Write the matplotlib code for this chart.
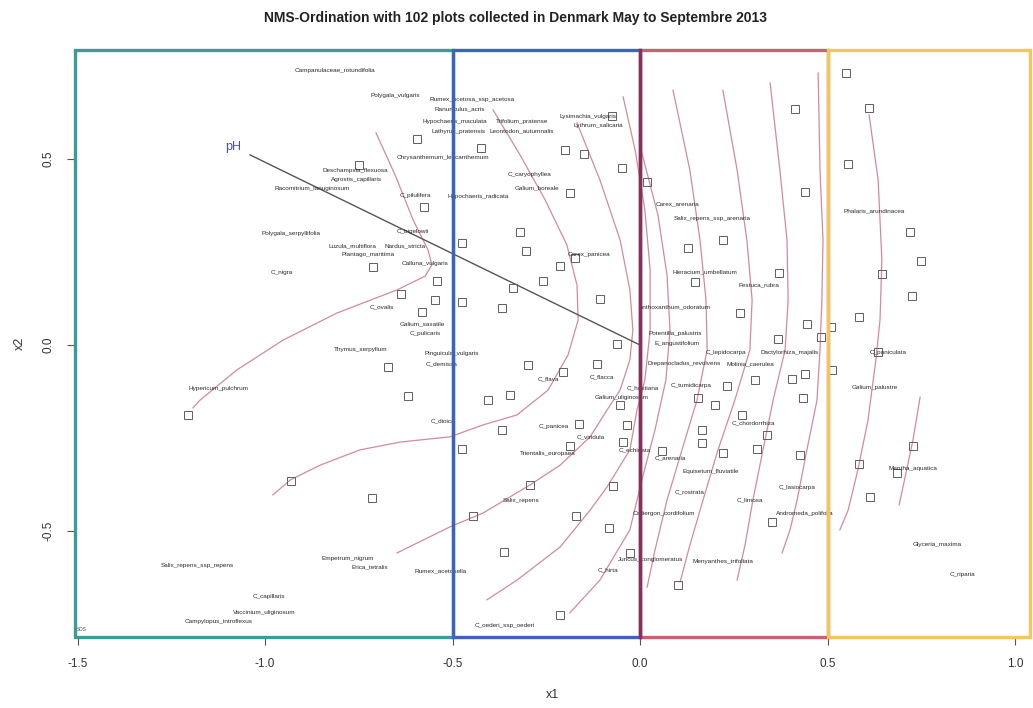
import matplotlib
matplotlib.use("Agg")
import matplotlib.pyplot as plt
from matplotlib.patches import Rectangle

plt.rcParams['font.family'] = ['Liberation Sans', 'DejaVu Sans']

# ---- NMS site scores (vegetation plots) ----
site_x = [-0.595, -0.749, -0.576, -0.712, -0.541, -0.637, -0.547, -0.581, -0.672, -0.619,
          -1.205, -0.931, -0.715,
          -0.424, -0.200, -0.149, -0.048, -0.187, -0.320, -0.075, -0.475, -0.304, -0.213,
          -0.173, -0.259, -0.339, -0.475, -0.368, -0.107, -0.061, -0.299, -0.115, -0.205,
          -0.405, -0.347, -0.053, -0.368, -0.475, -0.163, -0.187, -0.035, -0.045, -0.293,
          -0.072, -0.445, -0.171, -0.083, -0.363, -0.027, -0.213,
          0.019, 0.413, 0.440, 0.059, 0.101, 0.128, 0.221, 0.147, 0.371, 0.267, 0.445,
          0.368, 0.483, 0.232, 0.307, 0.405, 0.440, 0.435, 0.155, 0.200, 0.272, 0.165,
          0.165, 0.221, 0.312, 0.339, 0.427, 0.352, 0.512, 0.509,
          0.549, 0.611, 0.555, 0.720, 0.749, 0.645, 0.725, 0.584, 0.635, 0.728, 0.584,
          0.685, 0.613]
site_y = [0.554, 0.484, 0.371, 0.210, 0.172, 0.137, 0.121, 0.089, -0.059, -0.137,
          -0.188, -0.366, -0.411,
          0.530, 0.524, 0.513, 0.476, 0.409, 0.304, 0.616, 0.274, 0.253, 0.212,
          0.234, 0.172, 0.153, 0.116, 0.099, 0.124, 0.003, -0.054, -0.051, -0.073,
          -0.148, -0.134, -0.161, -0.228, -0.280, -0.212, -0.272, -0.215, -0.261, -0.376,
          -0.379, -0.460, -0.460, -0.492, -0.556, -0.559, -0.726,
          0.438, 0.634, 0.411, -0.285, -0.645, 0.261, 0.282, 0.169, 0.194, 0.086, 0.056,
          0.016, 0.022, -0.110, -0.094, -0.091, -0.078, -0.142, -0.142, -0.161, -0.188, -0.228,
          -0.263, -0.290, -0.280, -0.242, -0.296, -0.476, -0.067, 0.048,
          0.731, 0.637, 0.487, 0.304, 0.226, 0.191, 0.132, 0.075, -0.019, -0.272, -0.320,
          -0.344, -0.409]

# ---- species scores ----
species = ["Campanulaceae_rotundifolia", "Polygala_vulgaris", "Rumex_acetosa_ssp_acetosa",
           "Ranunculus_acris", "Hypochaeris_maculata", "Trifolium_pratense",
           "Lathyrus_pratensis", "Leontodon_autumnalis", "Chrysanthemum_leucanthemum",
           "C_caryophyllea", "Galium_boreale", "Hypochaeris_radicata", "C_pilulifera",
           "Deschampsia_flexuosa", "Agrostis_capillaris", "Racomitrium_lanuginosum",
           "C_bigelowii", "Polygala_serpyllifolia", "Luzula_multiflora",
           "Nardus_stricta", "Plantago_maritima", "C_nigra", "Calluna_vulgaris",
           "C_ovalis", "Galium_saxatile", "C_pulicaris", "Thymus_serpyllum",
           "Pinguicula_vulgaris", "C_demissa", "Hypericum_pulchrum", "C_dioica",
           "Salix_repens_ssp_repens", "Empetrum_nigrum", "Erica_tetralix",
           "Rumex_acetosella", "C_capillaris", "Vaccinium_uliginosum",
           "Campylopus_introflexus",
           "Carex_panicea", "C_flava", "C_flacca", "C_hostiana", "Galium_uliginosum",
           "C_panicea", "C_viridula", "Trientalis_europaea", "C_echinata", "C_arenaria",
           "Salix_repens", "C_hirta", "C_oederi_ssp_oederi", "Juncus_conglomeratus",
           "Lysimachia_vulgaris", "Lythrum_salicaria",
           "Anthoxanthum_odoratum", "Potentilla_palustris", "E_angustifolium",
           "C_lepidocarpa", "Dactylorhiza_majalis",
           "Drepanocladus_revolvens", "Molinia_caerulea",
           "C_tumidicarpa", "Salix_repens_ssp_arenaria", "Carex_arenaria",
           "Hieracium_umbellatum", "Festuca_rubra", "C_chordorrhiza",
           "Equisetum_fluviatile", "C_rostrata", "C_limosa", "C_lasiocarpa",
           "Andromeda_polifolia", "Calliergon_cordifolium", "Menyanthes_trifoliata",
           "Phalaris_arundinacea", "C_paniculata", "Galium_palustre", "Mentha_aquatica",
           "Glyceria_maxima", "C_riparia"]
species_x = [-0.813, -0.653, -0.448, -0.480, -0.493, -0.315, -0.485, -0.315, -0.525,
             -0.296, -0.275, -0.432, -0.600, -0.760, -0.755, -0.875, -0.605, -0.931,
             -0.768, -0.627, -0.725, -0.955, -0.573, -0.688, -0.581, -0.573, -0.744,
             -0.501, -0.528, -1.123, -0.525, -1.181, -0.779, -0.720, -0.531,
             -0.989, -1.003, -1.125,
             -0.136, -0.245, -0.101, 0.008, -0.048, -0.229, -0.131, -0.245, -0.013, 0.080,
             -0.317, -0.085, -0.360, 0.027, -0.139, -0.112,
             0.093, 0.093, 0.099, 0.229, 0.400, 0.117, 0.293, 0.136, 0.192,
             0.101, 0.173, 0.317, 0.301, 0.189, 0.131, 0.293, 0.419, 0.440, 0.064,
             0.221,
             0.624, 0.661, 0.627, 0.728, 0.792, 0.859]
species_y = [0.737, 0.672, 0.659, 0.634, 0.600, 0.600, 0.575, 0.575, 0.505, 0.457,
             0.422, 0.398, 0.403, 0.468, 0.446, 0.422, 0.306, 0.301, 0.266, 0.266, 0.242,
             0.196, 0.218, 0.102, 0.056, 0.032, -0.011, -0.024, -0.051, -0.116, -0.204,
             -0.594, -0.573, -0.597, -0.608, -0.675, -0.718, -0.742,
             0.242, -0.091, -0.086, -0.116, -0.140, -0.220, -0.247, -0.293, -0.282, -0.304,
             -0.419, -0.605, -0.753, -0.578, 0.613, 0.589,
             0.102, 0.032, 0.005, -0.019, -0.019, -0.051, -0.051, -0.108,
             0.341, 0.379, 0.196, 0.161, -0.210, -0.339, -0.395, -0.417, -0.384,
             -0.452, -0.454, -0.583,
             0.360, -0.019, -0.113, -0.333, -0.535, -0.618]

# ---- fitted pH vector ----
ph_x, ph_y = -1.04, 0.511

# ---- pH response surface isolines ----
iso_a_x = [-0.704, -0.653, -0.605, -0.565, -0.555, -0.573, -0.648, -0.808, -0.952, -1.075, -1.173, -1.192]
iso_a_y = [0.570, 0.457, 0.336, 0.255, 0.215, 0.185, 0.148, 0.086, 0.013, -0.067, -0.148, -0.169]
iso_b_x = [-0.392, -0.320, -0.253, -0.195, -0.168, -0.165, -0.192, -0.245, -0.328, -0.419, -0.507,
           -0.640, -0.747, -0.853, -0.933, -0.979]
iso_b_y = [0.632, 0.511, 0.390, 0.269, 0.161, 0.067, -0.027, -0.121, -0.188, -0.215, -0.247,
           -0.261, -0.282, -0.323, -0.363, -0.403]
iso_c_x = [-0.168, -0.107, -0.053, -0.027, -0.019, -0.027, -0.053, -0.088, -0.133, -0.213, -0.293,
           -0.419, -0.507, -0.648]
iso_c_y = [0.597, 0.444, 0.282, 0.148, 0.040, -0.040, -0.121, -0.175, -0.247, -0.323, -0.376,
           -0.452, -0.489, -0.559]
iso_d_x = [-0.045, -0.013, 0.013, 0.027, 0.027, 0.013, -0.008, -0.027, -0.088, -0.133, -0.213, -0.328, -0.408]
iso_d_y = [0.667, 0.524, 0.363, 0.202, 0.040, -0.094, -0.175, -0.282, -0.382, -0.444, -0.543, -0.632, -0.685]
iso_e_x = [0.005, 0.048, 0.072, 0.080, 0.069, 0.040, 0.005, -0.027, -0.107, -0.187]
iso_e_y = [0.516, 0.349, 0.188, 0.040, -0.094, -0.228, -0.363, -0.497, -0.632, -0.720]
iso_f_x = [0.088, 0.133, 0.160, 0.176, 0.179, 0.152, 0.112, 0.072, 0.040, 0.019]
iso_f_y = [0.685, 0.470, 0.282, 0.121, -0.013, -0.148, -0.282, -0.417, -0.551, -0.651]
iso_g_x = [0.221, 0.259, 0.285, 0.299, 0.293, 0.253, 0.208, 0.168, 0.133, 0.107]
iso_g_y = [0.685, 0.470, 0.282, 0.121, -0.013, -0.148, -0.282, -0.417, -0.538, -0.637]
iso_h_x = [0.347, 0.373, 0.392, 0.395, 0.387, 0.355, 0.328, 0.301, 0.280, 0.259]
iso_h_y = [0.704, 0.470, 0.282, 0.121, -0.013, -0.148, -0.282, -0.417, -0.538, -0.632]
iso_i_x = [0.475, 0.480, 0.488, 0.485, 0.480, 0.472, 0.445, 0.419, 0.400, 0.379]
iso_i_y = [0.731, 0.470, 0.282, 0.121, -0.013, -0.148, -0.282, -0.417, -0.497, -0.559]
iso_j_x = [0.611, 0.635, 0.645, 0.640, 0.629, 0.608, 0.581, 0.555, 0.533]
iso_j_y = [0.618, 0.444, 0.228, 0.067, -0.040, -0.202, -0.336, -0.444, -0.497]
iso_k_x = [0.747, 0.728, 0.707, 0.691]
iso_k_y = [-0.140, -0.255, -0.355, -0.430]

isolines = [(iso_a_x, iso_a_y), (iso_b_x, iso_b_y), (iso_c_x, iso_c_y), (iso_d_x, iso_d_y),
            (iso_e_x, iso_e_y), (iso_f_x, iso_f_y), (iso_g_x, iso_g_y), (iso_h_x, iso_h_y),
            (iso_i_x, iso_i_y), (iso_j_x, iso_j_y), (iso_k_x, iso_k_y)]

# ---- vegetation groups along NMS axis 1 ----
zone_bounds = [-1.5067, -0.5, 0.0, 0.5, 1.04]
zone_colors = ['#3c9a98', '#3e62bf', '#c4626f', '#f2c65a']

fig = plt.figure(figsize=(10.33, 7.08), dpi=100)
ax = fig.add_axes([75 / 1033, 1 - 637 / 708, 955 / 1033, 587 / 708])
ax.set_xlim(zone_bounds[0], zone_bounds[-1])
ax.set_ylim(-0.785, 0.793)
for s in ax.spines.values():
    s.set_visible(False)

for xs, ys in isolines:
    ax.plot(xs, ys, color='#cc7f90', lw=0.9, alpha=0.9, zorder=2)

ax.plot([0, ph_x], [0, ph_y], color='#555555', lw=1.0, zorder=3)
ax.text(ph_x - 0.045, ph_y + 0.021, 'pH', color='#4b4bc4', fontsize=9,
        ha='center', va='center', zorder=4)

ax.plot(site_x, site_y, linestyle='none', marker='s', markersize=5.5,
        markerfacecolor='none', markeredgecolor='#5f5f5f', markeredgewidth=0.7, zorder=3)

for name, sx, sy in zip(species, species_x, species_y):
    ax.text(sx, sy, name, fontsize=4.6, color='#2a2a2a', ha='center', va='center', zorder=4)

for i in range(4):
    lo, hi = zone_bounds[i], zone_bounds[i + 1]
    ax.add_patch(Rectangle((lo, -0.785), hi - lo, 0.793 + 0.785, fill=False,
                           edgecolor=zone_colors[i], lw=2.4, clip_on=False, zorder=5))
ax.plot([0, 0], [-0.785, 0.793], color='#8a2f55', lw=2.4, clip_on=False, zorder=6)

ax.text(-1.488, -0.766, 'SDS', fontsize=3.5, color='#555555', ha='center', va='center')

ax.set_xticks([-1.5, -1.0, -0.5, 0.0, 0.5, 1.0])
ax.set_xticklabels(['-1.5', '-1.0', '-0.5', '0.0', '0.5', '1.0'])
ax.set_yticks([-0.5, 0.0, 0.5])
ax.set_yticklabels(['-0.5', '0.0', '0.5'], rotation=90, va='center')
ax.tick_params(axis='both', length=6, width=0.8, color='#555555', labelsize=8.5,
               labelcolor='#333333', pad=9)
ax.set_xlabel('x1', fontsize=9, color='#333333', labelpad=14)
ax.set_ylabel('x2', fontsize=9, color='#333333', labelpad=12)

fig.text(515 / 1033, 1 - 18 / 708,
         'NMS-Ordination with 102 plots collected in Denmark May to Septembre 2013',
         ha='center', va='center', fontsize=10, fontweight='bold', color='#222222')

fig.savefig('out.png', dpi=100)
